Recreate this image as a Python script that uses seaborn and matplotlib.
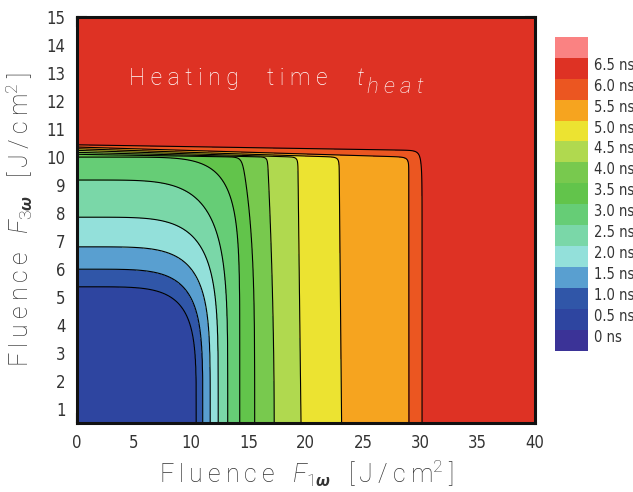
import numpy as np
import matplotlib
matplotlib.use("Agg")
import matplotlib.pyplot as plt
import seaborn as sns
from matplotlib.colors import ListedColormap, BoundaryNorm
from matplotlib.ticker import MultipleLocator
from matplotlib.font_manager import FontProperties

# ---- data ----
contour_levels = [0.5, 1.0, 1.5, 2.0, 2.5, 3.0, 3.5, 4.0, 4.5, 5.0, 5.5, 6.0]
x_bottom = [10.43, 11.0, 11.65, 12.35, 13.18, 14.23, 15.53, 17.24, 19.59, 23.13, 29.0, 30.14]
x_top = [10.43, 11.0, 11.65, 12.35, 13.18, 14.23, 14.4, 16.65, 19.3, 22.9, 28.98, 29.84]
y_left = [5.36, 5.99, 6.79, 7.85, 9.18, 10.0, 10.1, 10.17, 10.24, 10.3, 10.36, 10.44]
y_corner = [5.36, 5.99, 6.79, 7.85, 9.18, 10.0, 10.0, 10.0, 10.0, 10.0, 10.0, 10.24]
corner_exp = [5, 5, 5, 5, 5, 7, 60, 100, 100, 100, 100, 100]
slant_exp = [1, 1, 1, 1, 1, 1, 4, 2, 1, 1, 1, 25]

bounds = [0, 0.5, 1.0, 1.5, 2.0, 2.5, 3.0, 3.5, 4.0, 4.5, 5.0, 5.5, 6.0, 6.5]
bound_labels = ["0 ns", "0.5 ns", "1.0 ns", "1.5 ns", "2.0 ns", "2.5 ns", "3.0 ns",
                "3.5 ns", "4.0 ns", "4.5 ns", "5.0 ns", "5.5 ns", "6.0 ns", "6.5 ns"]
band_colors = ["#2e45a0", "#3056a8", "#599fd0", "#93e0da", "#7ad7a8", "#66cd76",
               "#62c44b", "#78c94e", "#b0d94f", "#ece331", "#f6a41f", "#eb5621", "#de3224"]
under_color = "#3b3397"
over_color = "#fa8282"

# ---- build the field from the contour geometry ----
xg = np.linspace(0, 40, 1400)
yg = np.linspace(0.5, 15, 1500)
X, Y = np.meshgrid(xg, yg)
T = np.full(X.shape, 0.25)
w = 0.002
for k in range(len(contour_levels)):
    a = x_bottom[k] + (x_top[k] - x_bottom[k]) * np.clip(Y / y_corner[k], 0, 1) ** slant_exp[k]
    b = y_left[k] + (y_corner[k] - y_left[k]) * np.clip(X / x_top[k], 0, 1)
    p = corner_exp[k]
    r = ((X / a) ** p + (Y / b) ** p) ** (1.0 / p)
    T += 0.5 * np.clip(0.5 + (r - 1) / w, 0, 1)

# ---- style ----
sns.set_theme(style="ticks")
plt.rcParams["font.family"] = ["Roboto", "DejaVu Sans"]
plt.rcParams["mathtext.fontset"] = "custom"
plt.rcParams["mathtext.rm"] = "Roboto:light"
plt.rcParams["mathtext.it"] = "Roboto:italic:light"
plt.rcParams["mathtext.bf"] = "Roboto:italic:bold"
tick_font = FontProperties(family=["DejaVu Sans"], stretch="condensed", weight="light", size=12)
cb_font = FontProperties(family=["DejaVu Sans"], stretch="condensed", weight="light", size=10.5)

fig = plt.figure(figsize=(6.33, 4.92), dpi=100)
ax = fig.add_axes([0.1212, 0.1409, 0.7240, 0.8239])
cax = fig.add_axes([0.8768, 0.2866, 0.0521, 0.6388])

cmap = ListedColormap(band_colors)
cmap.set_under(under_color)
cmap.set_over(over_color)
norm = BoundaryNorm(bounds, cmap.N)

cf = ax.contourf(X, Y, T, levels=bounds, cmap=cmap, norm=norm, extend="both")
ax.contour(X, Y, T, levels=contour_levels, colors="black", linewidths=0.8)

ax.set_xlim(0, 40)
ax.set_ylim(0.5, 15)
ax.xaxis.set_major_locator(MultipleLocator(5))
ax.xaxis.set_minor_locator(MultipleLocator(2.5))
ax.yaxis.set_major_locator(MultipleLocator(1))
ax.yaxis.set_minor_locator(MultipleLocator(0.5))
ax.tick_params(which="both", direction="in", top=True, right=True, color="#222222")
ax.tick_params(which="major", length=7, width=1.5, pad=8, labelcolor="#333333")
ax.tick_params(which="minor", length=4, width=1.5)
for lab in ax.get_xticklabels() + ax.get_yticklabels():
    lab.set_fontproperties(tick_font)
for s in ax.spines.values():
    s.set_linewidth(2.2)
    s.set_color("#111111")

sp = "\u2009"
word = lambda s: sp.join(s)
units = "   [" + sp + "J" + sp + "/" + sp + "c" + sp + "m" + r"$^{2}$" + sp + "]"
ax.set_xlabel(word("Fluence") + "   " + r"$F_{1\mathbf{\omega}}$" + units,
              fontsize=18, fontweight="light", color="#333333", labelpad=4)
ax.set_ylabel(word("Fluence") + "   " + r"$F_{3\mathbf{\omega}}$" + units,
              fontsize=18, fontweight="light", color="#333333", labelpad=8)

# in-plot title, pieces placed at their reference positions
ax.text(4.59, 12.58, " ".join("Heating"), color="white", fontsize=16.5,
        fontweight="light", ha="left", va="baseline")
ax.text(16.58, 12.58, " ".join("time"), color="white", fontsize=16.5,
        fontweight="light", ha="left", va="baseline")
ax.text(24.43, 12.58, "t", color="white", fontsize=16.5, fontweight="light",
        fontstyle="italic", ha="left", va="baseline")
ax.text(25.3, 12.29, " ".join("heat"), color="white", fontsize=16, fontweight="light",
        fontstyle="italic", ha="left", va="baseline")

cb = fig.colorbar(cf, cax=cax, extend="both", extendrect=True, extendfrac=1 / 13,
                  ticks=bounds, drawedges=False)
cb.outline.set_visible(False)
cb.ax.set_yticklabels(bound_labels)
cb.ax.tick_params(length=0, pad=4, labelcolor="#333333")
for lab in cb.ax.get_yticklabels():
    lab.set_va("top")
    lab.set_fontproperties(cb_font)

fig.savefig("out.png", dpi=100)
